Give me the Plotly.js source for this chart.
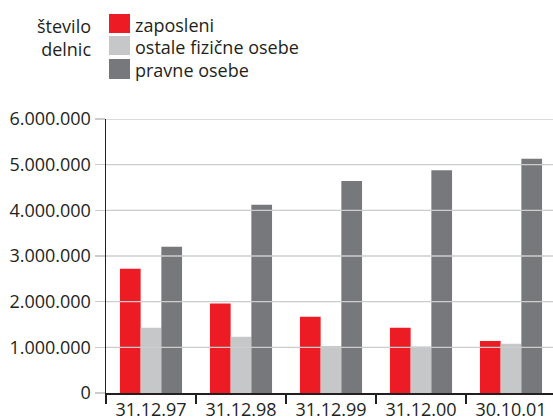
<!DOCTYPE html>
<html>
<head>
<meta charset="utf-8">
<script src="https://cdn.plot.ly/plotly-3.0.1.min.js"></script>
<style>html,body{margin:0;padding:0;background:#fff;}#chart{width:553px;height:418px;}</style>
</head>
<body>
<div id="chart"></div>
<script>
const categories = ['31.12.97', '31.12.98', '31.12.99', '31.12.00', '30.10.01'];
const zaposleni = [2720000, 1960000, 1670000, 1430000, 1140000];
const ostaleFizicne = [1430000, 1230000, 1030000, 1020000, 1080000];
const pravneOsebe = [3200000, 4120000, 4640000, 4880000, 5130000];
const seriesNames = ['zaposleni', 'ostale fizične osebe', 'pravne osebe'];
const yTickVals = [0, 1000000, 2000000, 3000000, 4000000, 5000000, 6000000];
const yTickText = ['0', '1.000.000', '2.000.000', '3.000.000', '4.000.000', '5.000.000', '6.000.000'];
const yAxisLabel = 'število<br>delnic';

const colors = ['#ED1C24', '#C6C7C8', '#77787B'];
const textColor = '#231F20';
const FONT = '"Open Sans", sans-serif';

// plot area in pixels
const W = 553, H = 418, L = 106, T = 119, PH = 274, PW = W - L;
const px = v => (v - L) / PW;
const py = v => (T + PH - v) / PH;

const seriesValues = [zaposleni, ostaleFizicne, pravneOsebe];
const traces = seriesValues.map((vals, i) => ({
  type: 'bar',
  x: categories,
  y: vals,
  name: seriesNames[i],
  marker: {color: colors[i], line: {width: 0}},
  showlegend: false,
  hoverinfo: 'skip'
}));

const shapes = [];
// gridlines above the bars
yTickVals.forEach(v => {
  if (v === 0) return;
  shapes.push({type: 'line', xref: 'paper', yref: 'y', x0: 0, x1: 1, y0: v, y1: v,
    line: {color: '#CCCCCC', width: 1.3}, layer: 'above'});
});
// legend squares
const legTops = [14, 36, 59];
const legH = [19, 19, 20];
const annotations = [];
legTops.forEach((t, i) => {
  shapes.push({type: 'rect', xref: 'paper', yref: 'paper', x0: px(109), x1: px(130),
    y0: py(t + legH[i]), y1: py(t), fillcolor: colors[i], line: {width: 0}, layer: 'above'});
  annotations.push({xref: 'paper', yref: 'paper', x: px(133), y: py(t + legH[i] / 2 + 1),
    xanchor: 'left', yanchor: 'middle', showarrow: false, text: seriesNames[i],
    font: {family: FONT, size: 18, color: textColor}});
});
annotations.push({xref: 'paper', yref: 'paper', x: px(93), y: py(37), xanchor: 'right', yanchor: 'middle',
  align: 'right', showarrow: false, text: yAxisLabel, font: {family: FONT, size: 18, color: textColor}});

const layout = {
  width: W, height: H,
  margin: {l: L, r: 0, t: T, b: H - T - PH, pad: 0},
  paper_bgcolor: '#ffffff', plot_bgcolor: '#ffffff',
  font: {family: FONT, size: 18, color: textColor},
  barmode: 'group', bargap: 0.31, bargroupgap: 0,
  showlegend: false,
  xaxis: {
    type: 'category', range: [-0.5, -0.5 + PW / 90],
    showline: true, linecolor: textColor, linewidth: 1.5,
    ticks: 'outside', tickson: 'boundaries', ticklen: 9, tickwidth: 1.5, tickcolor: textColor,
    showgrid: false, tickfont: {family: FONT, size: 18, color: textColor}, fixedrange: true
  },
  yaxis: {
    range: [0, 6000000], tickvals: yTickVals, ticktext: yTickText,
    showline: true, linecolor: textColor, linewidth: 1.5,
    ticks: 'outside', ticklen: 10, tickwidth: 1.3, tickcolor: '#CCCCCC',
    showgrid: false, zeroline: false,
    tickfont: {family: FONT, size: 18, color: textColor}, fixedrange: true
  },
  shapes: shapes,
  annotations: annotations
};

Plotly.newPlot('chart', traces, layout, {displayModeBar: false, staticPlot: true});
</script>
</body>
</html>
